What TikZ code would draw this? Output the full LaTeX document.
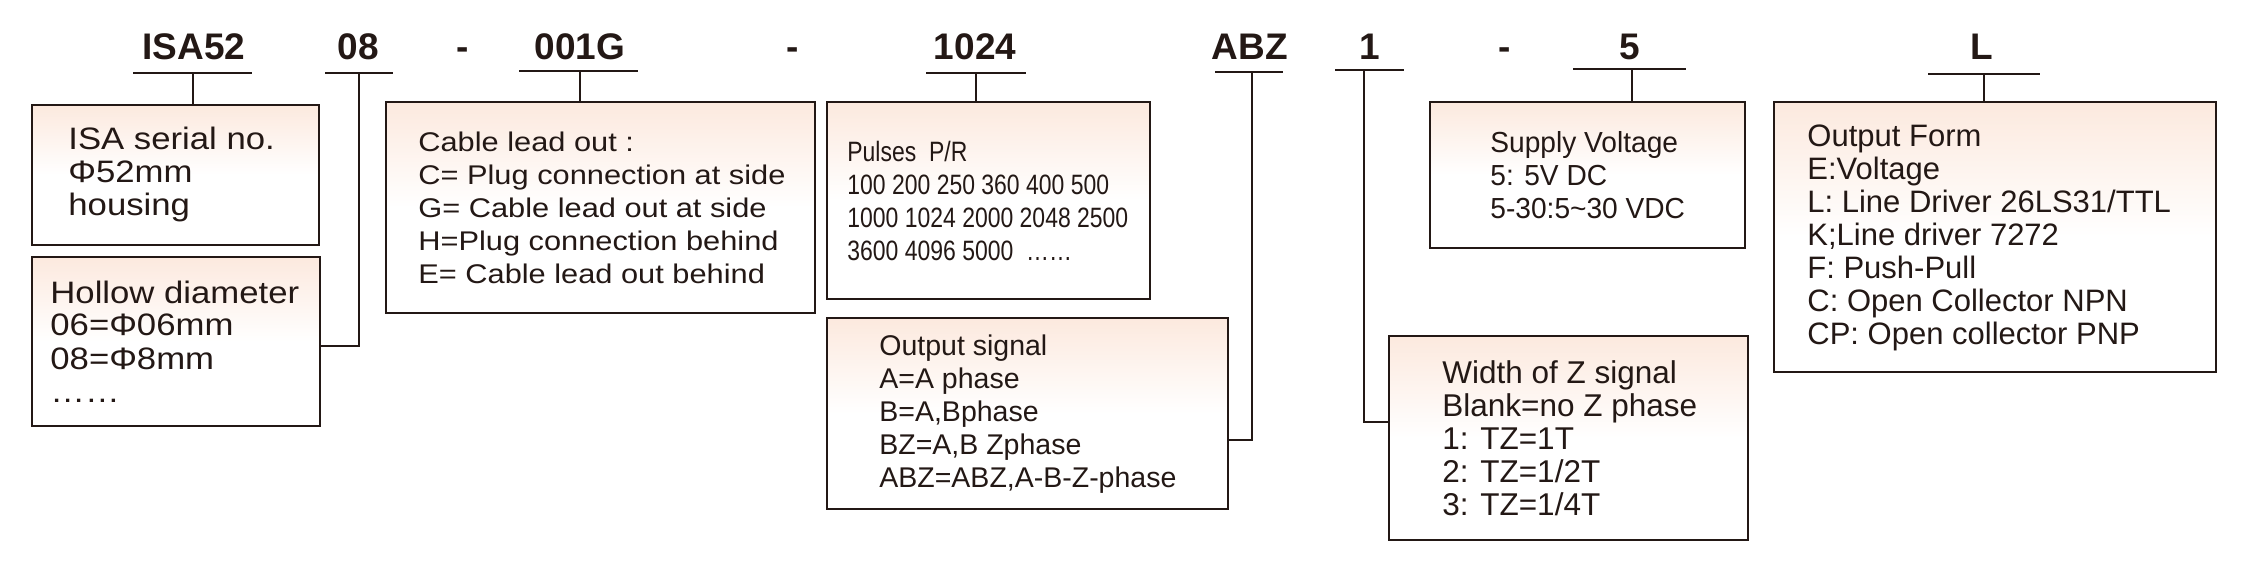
\documentclass[tikz,border=0pt]{standalone}
\usepackage{fontspec}
\setmainfont{Liberation Sans}
\newfontfamily\fA[FakeStretch=1.12]{Liberation Sans}
\newfontfamily\fB[FakeStretch=1.14]{Liberation Sans}
\newfontfamily\fC[FakeStretch=0.82]{Liberation Sans}
\newfontfamily\fD{Liberation Sans}
\newfontfamily\fE[FakeStretch=0.97]{Liberation Sans}
\definecolor{ink}{RGB}{35,24,21}
\definecolor{peach}{RGB}{252,233,222}
\newcommand{\ml}[1]{\vtop{\baselineskip=16.5pt\halign{##\hfil\cr#1\crcr}}}
\begin{document}
\begin{tikzpicture}[x=0.5pt,y=-0.5pt,
  box/.style={draw=ink, line width=1pt, top color=peach, bottom color=white, middle color=white, inner sep=0pt, outer sep=0pt},
  hdr/.style={text=ink, font=\bfseries\fontsize{18.5pt}{20pt}\selectfont, inner sep=0pt, anchor=base},
  txt/.style={text=ink, inner sep=0pt, anchor=base west},
  ln/.style={draw=ink, line width=1pt}]
\useasboundingbox (0,0) rectangle (2242,572);

% header codes
\node[hdr] (h1) at (194,60) {ISA52};
\node[hdr] (h2) at (358.5,60) {08};
\node[hdr] (d1) at (463,60) {-};
\node[hdr] (h3) at (580,60) {001G};
\node[hdr] (d2) at (793,60) {-};
\node[hdr] (h4) at (975,60) {1024};
\node[hdr] (h5) at (1250,60) {ABZ};
\node[hdr] (h6) at (1370,60) {1};
\node[hdr] (d3) at (1505,60) {-};
\node[hdr] (h7) at (1630,60) {5};
\node[hdr] (h8) at (1982,60) {L};

% underlines
\coordinate (u1a) at (133,73);  \coordinate (u1b) at (252,73);  \coordinate (u1) at (193,73);
\coordinate (u2a) at (325,73);  \coordinate (u2b) at (393,73);  \coordinate (u2) at (359,73);
\coordinate (u3a) at (519,71);  \coordinate (u3b) at (638,71);  \coordinate (u3) at (580,71);
\coordinate (u4a) at (926,73);  \coordinate (u4b) at (1026,73); \coordinate (u4) at (976,73);
\coordinate (u5a) at (1215,72); \coordinate (u5b) at (1283,72); \coordinate (u5) at (1252,72);
\coordinate (u6a) at (1335,70); \coordinate (u6b) at (1404,70); \coordinate (u6) at (1364,70);
\coordinate (u7a) at (1573,69); \coordinate (u7b) at (1686,69); \coordinate (u7) at (1632,69);
\coordinate (u8a) at (1928,74); \coordinate (u8b) at (2040,74); \coordinate (u8) at (1984,74);
\foreach \k in {1,...,8} {\draw[ln] (u\k a) -- (u\k b);}

% boxes
\node[box, minimum width=143.5pt, minimum height=70pt]   (b1) at (175.5,175) {};
\node[box, minimum width=144pt,   minimum height=84.5pt] (b2) at (176,341.5) {};
\node[box, minimum width=214.5pt, minimum height=105.5pt] (b3) at (600.5,207.5) {};
\node[box, minimum width=161.5pt, minimum height=98.5pt] (b4) at (988.5,200.5) {};
\node[box, minimum width=200.5pt, minimum height=95.5pt] (b5) at (1027.5,413.5) {};
\node[box, minimum width=157.5pt, minimum height=73pt]   (b6) at (1587.5,175) {};
\node[box, minimum width=179.5pt, minimum height=102pt]  (b7) at (1568.5,438) {};
\node[box, minimum width=221pt,   minimum height=135pt]  (b8) at (1995,237) {};

% connectors
\draw[ln] (u1) -- (u1 |- b1.north);
\draw[ln] (u2) |- ([yshift=-2pt]b2.east);
\draw[ln] (u3) -- (u3 |- b3.north);
\draw[ln] (u4) -- (u4 |- b4.north);
\draw[ln] (u5) |- ([yshift=-13pt]b5.east);
\draw[ln] (u6) |- ([yshift=8pt]b7.west);
\draw[ln] (u7) -- (u7 |- b6.north);
\draw[ln] (u8) -- (u8 |- b8.north);

% texts
\node[txt, font=\fA\fontsize{15.5pt}{16.5pt}\selectfont] (t1) at (68,150)
  {\ml{ISA serial no.\cr Φ52mm\cr housing}};
\node[txt, font=\fA\fontsize{15.5pt}{16.5pt}\selectfont] (t2) at (50,303)
  {\ml{Hollow diameter\cr 06=Φ06mm\cr 08=Φ8mm\cr ……}};
\node[txt, font=\fB\fontsize{13.5pt}{16.5pt}\selectfont] (t3) at (418,152)
  {\ml{Cable lead out :\cr C= Plug connection at side\cr G= Cable lead out at side\cr H=Plug connection behind\cr E= Cable lead out behind}};
\node[txt, font=\fC\fontsize{14pt}{16.5pt}\selectfont] (t4) at (847,162)
  {\ml{Pulses\ \ P/R\cr 100 200 250 360 400 500\cr 1000 1024 2000 2048 2500\cr 3600 4096 5000\ \ ……}};
\node[txt, font=\fD\fontsize{14.25pt}{16.5pt}\selectfont] (t5) at (879,355)
  {\ml{Output signal\cr A=A phase\cr B=A,Bphase\cr BZ=A,B Zphase\cr ABZ=ABZ,A-B-Z-phase}};
\node[txt, font=\fE\fontsize{14.5pt}{16.5pt}\selectfont] (t6) at (1490,153)
  {\ml{Supply Voltage\cr 5: 5V DC\cr 5-30:5\textasciitilde 30 VDC}};
\node[txt, font=\fD\fontsize{15.75pt}{16.5pt}\selectfont] (t7) at (1442,383)
  {\ml{Width of Z signal\cr Blank=no Z phase\cr 1: TZ=1T\cr 2: TZ=1/2T\cr 3: TZ=1/4T}};
\node[txt, font=\fD\fontsize{15.5pt}{16.5pt}\selectfont] (t8) at (1807,147)
  {\ml{Output Form\cr E:Voltage\cr L: Line Driver 26LS31/TTL\cr K;Line driver 7272\cr F: Push-Pull\cr C: Open Collector NPN\cr CP: Open collector PNP}};
\end{tikzpicture}
\end{document}
